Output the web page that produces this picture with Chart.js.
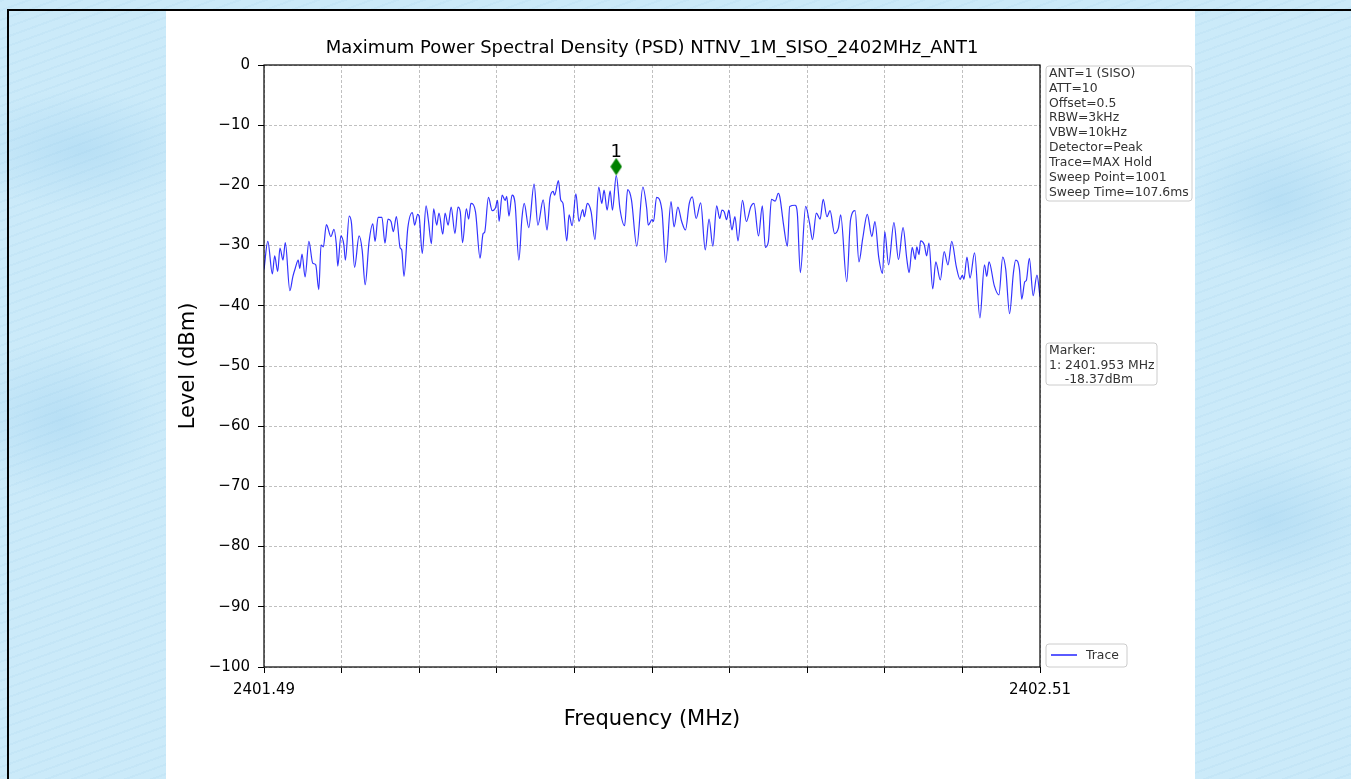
<!DOCTYPE html>
<html>
<head>
<meta charset="utf-8">
<script src="https://cdn.jsdelivr.net/npm/chart.js@4.4.0/dist/chart.umd.min.js"></script>
<style>
    html, body { margin: 0; padding: 0; }
    body {
        width: 1351px; height: 779px; overflow: hidden; position: relative;
        background-color: #cbeaf9;
        background-image:
            repeating-linear-gradient(160deg, rgba(150, 200, 230, 0.12) 0px, rgba(150, 200, 230, 0.12) 2px, transparent 2px, transparent 9px),
            radial-gradient(ellipse 120px 60px at 80px 150px, rgba(160, 210, 240, 0.45), transparent),
            radial-gradient(ellipse 100px 80px at 60px 420px, rgba(160, 210, 240, 0.45), transparent),
            radial-gradient(ellipse 90px 70px at 1280px 200px, rgba(160, 210, 240, 0.45), transparent),
            radial-gradient(ellipse 110px 70px at 1270px 520px, rgba(160, 210, 240, 0.45), transparent);
    }
    #frame {
        position: absolute; left: 7px; top: 9px; width: 1400px; height: 800px;
        border-left: 2px solid #000; border-top: 2px solid #000;
    }
    #panel {
        position: absolute; left: 166px; top: 11px; width: 1029px; height: 768px;
        background: #fff;
    }
    #panel canvas { display: block; }
</style>
</head>
<body>
<div id="frame"></div>
<div id="panel"><canvas id="psd-chart" width="1029" height="768"></canvas></div>
<script>
// Trace (MHz / dBm)
const freqMHz = [
    2401.490, 2401.495, 2401.501, 2401.504, 2401.508, 2401.511, 2401.515, 2401.518, 2401.524, 2401.528,
    2401.531, 2401.535, 2401.537, 2401.540, 2401.544, 2401.549, 2401.554, 2401.558, 2401.562, 2401.565,
    2401.568, 2401.572, 2401.578, 2401.582, 2401.585, 2401.587, 2401.591, 2401.595, 2401.597, 2401.602,
    2401.605, 2401.609, 2401.615, 2401.619, 2401.623, 2401.628, 2401.633, 2401.636, 2401.640, 2401.645,
    2401.649, 2401.653, 2401.657, 2401.660, 2401.664, 2401.669, 2401.671, 2401.674, 2401.679, 2401.685,
    2401.688, 2401.692, 2401.694, 2401.698, 2401.703, 2401.706, 2401.710, 2401.713, 2401.717, 2401.720,
    2401.725, 2401.728, 2401.732, 2401.736, 2401.741, 2401.745, 2401.748, 2401.751, 2401.756, 2401.759,
    2401.762, 2401.768, 2401.774, 2401.778, 2401.780, 2401.785, 2401.790, 2401.794, 2401.797, 2401.799,
    2401.803, 2401.807, 2401.809, 2401.812, 2401.816, 2401.820, 2401.825, 2401.829, 2401.832, 2401.838,
    2401.845, 2401.850, 2401.857, 2401.862, 2401.866, 2401.870, 2401.872, 2401.877, 2401.880, 2401.883,
    2401.888, 2401.891, 2401.895, 2401.900, 2401.904, 2401.909, 2401.911, 2401.915, 2401.920, 2401.925,
    2401.930, 2401.934, 2401.937, 2401.941, 2401.945, 2401.948, 2401.953, 2401.958, 2401.964, 2401.968,
    2401.973, 2401.980, 2401.988, 2401.993, 2401.995, 2402.000, 2402.002, 2402.006, 2402.013, 2402.018,
    2402.025, 2402.029, 2402.034, 2402.039, 2402.044, 2402.049, 2402.053, 2402.058, 2402.064, 2402.070,
    2402.075, 2402.080, 2402.085, 2402.089, 2402.092, 2402.095, 2402.098, 2402.101, 2402.105, 2402.109,
    2402.113, 2402.119, 2402.124, 2402.130, 2402.134, 2402.140, 2402.145, 2402.149, 2402.153, 2402.157,
    2402.162, 2402.166, 2402.168, 2402.173, 2402.178, 2402.181, 2402.188, 2402.191, 2402.195, 2402.202,
    2402.207, 2402.211, 2402.216, 2402.221, 2402.225, 2402.230, 2402.234, 2402.240, 2402.245, 2402.248,
    2402.256, 2402.261, 2402.267, 2402.272, 2402.277, 2402.283, 2402.289, 2402.293, 2402.298, 2402.303,
    2402.306, 2402.311, 2402.318, 2402.324, 2402.330, 2402.335, 2402.338, 2402.342, 2402.346, 2402.348,
    2402.351, 2402.353, 2402.358, 2402.361, 2402.364, 2402.369, 2402.373, 2402.379, 2402.384, 2402.389,
    2402.394, 2402.400, 2402.405, 2402.408, 2402.410, 2402.414, 2402.418, 2402.424, 2402.431, 2402.437,
    2402.440, 2402.443, 2402.450, 2402.456, 2402.461, 2402.465, 2402.470, 2402.475, 2402.478, 2402.483,
    2402.486, 2402.490, 2402.492, 2402.496, 2402.501, 2402.506, 2402.510
];
const levelDbm = [
    -34.0, -29.3, -34.7, -31.7, -34.3, -30.4, -32.4, -29.5, -37.5, -35.1,
    -33.8, -32.4, -33.8, -31.4, -35.2, -29.3, -32.9, -33.2, -37.3, -29.9,
    -30.2, -26.5, -28.5, -27.3, -29.7, -33.4, -28.4, -29.9, -32.4, -25.1,
    -26.3, -33.6, -28.4, -30.7, -36.5, -29.5, -26.4, -29.3, -25.3, -25.3,
    -29.6, -25.6, -26.0, -27.7, -25.2, -30.4, -30.7, -35.1, -27.1, -24.5,
    -26.6, -24.8, -25.2, -31.3, -23.4, -25.7, -29.7, -23.9, -26.6, -24.6,
    -28.1, -24.6, -26.6, -23.6, -28.0, -23.6, -24.4, -29.5, -23.9, -25.6,
    -23.0, -24.4, -32.1, -28.0, -27.8, -22.0, -24.2, -23.8, -22.5, -26.0,
    -21.6, -22.5, -21.8, -25.1, -21.6, -23.0, -32.4, -25.5, -23.0, -27.0,
    -19.8, -26.6, -22.4, -27.4, -22.0, -21.0, -21.6, -19.2, -22.4, -23.0,
    -29.2, -24.9, -26.7, -21.4, -26.0, -24.0, -25.2, -23.0, -24.4, -29.0,
    -20.3, -23.0, -20.8, -24.1, -20.9, -24.1, -18.37, -24.0, -26.7, -20.7,
    -22.4, -30.1, -20.3, -23.8, -26.6, -25.7, -26.0, -22.0, -24.1, -32.8,
    -22.7, -26.9, -23.6, -26.0, -27.4, -23.0, -21.9, -25.5, -22.9, -30.7,
    -25.6, -30.1, -23.4, -25.5, -24.1, -24.4, -25.7, -24.1, -27.4, -25.2,
    -29.2, -22.5, -26.0, -23.5, -23.0, -28.4, -23.4, -30.3, -29.3, -22.3,
    -22.6, -21.3, -21.9, -26.6, -30.1, -23.5, -23.3, -24.6, -34.5, -23.5,
    -26.2, -29.0, -24.6, -25.6, -22.3, -25.2, -24.2, -28.0, -27.1, -24.9,
    -36.0, -25.7, -24.2, -32.7, -28.8, -24.8, -28.5, -26.0, -31.9, -34.6,
    -27.7, -33.2, -26.2, -32.3, -27.0, -32.3, -34.5, -30.3, -32.3, -30.2,
    -31.5, -29.2, -29.9, -31.7, -29.6, -37.2, -32.7, -35.7, -31.0, -33.2,
    -29.3, -33.5, -35.6, -34.9, -35.6, -31.9, -35.4, -31.2, -42.0, -33.2,
    -35.1, -32.7, -36.7, -38.2, -31.9, -34.0, -41.3, -34.6, -32.4, -34.0,
    -38.9, -36.0, -35.8, -32.1, -38.3, -34.9, -38.5
];

// Peak marker
const markerFreq = [2401.953];
const markerLevel = [-18.37];
const markerNames = ['1'];

// Axis ticks
const xTickValues = [2401.49, 2401.592, 2401.694, 2401.796, 2401.898, 2402.0,
                     2402.102, 2402.204, 2402.306, 2402.408, 2402.51];
const xTickLabels = ['2401.49', '', '', '', '', '', '', '', '', '', '2402.51'];
const yTickValues = [-100, -90, -80, -70, -60, -50, -40, -30, -20, -10, 0];
const yTickLabels = ['\u2212100', '\u221290', '\u221280', '\u221270', '\u221260', '\u221250',
                     '\u221240', '\u221230', '\u221220', '\u221210', '0'];

// Title and side boxes
const chartTitle = 'Maximum Power Spectral Density (PSD) NTNV_1M_SISO_2402MHz_ANT1';
const infoLines = ['ANT=1 (SISO)', 'ATT=10', 'Offset=0.5', 'RBW=3kHz', 'VBW=10kHz',
                   'Detector=Peak', 'Trace=MAX Hold', 'Sweep Point=1001', 'Sweep Time=107.6ms'];
const markerLines = ['Marker:', '1: 2401.953 MHz', '    -18.37dBm'];
const legendLabel = 'Trace';

const FONT = '"DejaVu Sans", sans-serif';
Chart.defaults.font.family = FONT;
Chart.defaults.color = '#000';

// thin green diamond, sitting just above its data point
function makeDiamond() {
    let c = document.createElement('canvas');
    c.width = 12;
    c.height = 36;
    let g = c.getContext('2d');
    g.fillStyle = '#008000';
    g.beginPath();
    g.moveTo(6, 0.3);
    g.lineTo(11.8, 9);
    g.lineTo(6, 17.7);
    g.lineTo(0.2, 9);
    g.closePath();
    g.fill();
    return c;
}

function roundBox(ctx, x, y, w, h, r) {
    ctx.beginPath();
    ctx.moveTo(x + r, y);
    ctx.lineTo(x + w - r, y);
    ctx.quadraticCurveTo(x + w, y, x + w, y + r);
    ctx.lineTo(x + w, y + h - r);
    ctx.quadraticCurveTo(x + w, y + h, x + w - r, y + h);
    ctx.lineTo(x + r, y + h);
    ctx.quadraticCurveTo(x, y + h, x, y + h - r);
    ctx.lineTo(x, y + r);
    ctx.quadraticCurveTo(x, y, x + r, y);
    ctx.closePath();
    ctx.fillStyle = 'rgba(255,255,255,0.9)';
    ctx.fill();
    ctx.strokeStyle = '#cccccc';
    ctx.lineWidth = 1;
    ctx.stroke();
}

// Title, spines, marker label, info boxes and legend
const extrasPlugin = {
    id: 'extras',
    afterDraw(chart) {
        let ctx = chart.ctx;
        let area = chart.chartArea;
        let xs = chart.scales.x;
        let ys = chart.scales.y;
        ctx.save();

        // title centred over the axes
        ctx.fillStyle = '#000';
        ctx.font = '18px ' + FONT;
        ctx.textAlign = 'center';
        ctx.textBaseline = 'middle';
        ctx.fillText(chartTitle, (area.left + area.right) / 2, area.top - 17);

        // axes box
        ctx.strokeStyle = '#000';
        ctx.lineWidth = 1.2;
        ctx.strokeRect(area.left, area.top, area.right - area.left, area.bottom - area.top);

        // marker number
        ctx.font = '18px ' + FONT;
        ctx.textBaseline = 'alphabetic';
        for (let i = 0; i < markerFreq.length; i++) {
            let px = xs.getPixelForValue(markerFreq[i]);
            let py = ys.getPixelForValue(markerLevel[i]);
            ctx.fillText(markerNames[i], px, py - 19);
        }

        let bx = area.right + 6;
        ctx.font = '12.4px ' + FONT;
        ctx.textAlign = 'left';
        ctx.textBaseline = 'middle';

        // info box
        roundBox(ctx, bx, area.top + 1, 146, 135, 3);
        ctx.fillStyle = '#333';
        infoLines.forEach((t, i) => ctx.fillText(t, bx + 3, area.top + 8.5 + i * 14.9));

        // marker readout
        roundBox(ctx, bx, area.top + 278, 111, 42, 3);
        ctx.fillStyle = '#333';
        markerLines.forEach((t, i) => ctx.fillText(t, bx + 3, area.top + 286 + i * 14.5));

        // legend
        roundBox(ctx, bx, area.bottom - 23, 81, 23, 3);
        ctx.strokeStyle = '#0000ff';
        ctx.lineWidth = 1.3;
        ctx.beginPath();
        ctx.moveTo(bx + 5, area.bottom - 12);
        ctx.lineTo(bx + 31, area.bottom - 12);
        ctx.stroke();
        ctx.fillStyle = '#333';
        ctx.fillText(legendLabel, bx + 40, area.bottom - 11.5);

        ctx.restore();
    }
};

let ctx = document.getElementById('psd-chart').getContext('2d');
new Chart(ctx, {
    type: 'line',
    data: {
        datasets: [{
            label: legendLabel,
            data: freqMHz.map((f, i) => ({ x: f, y: levelDbm[i] })),
            borderColor: 'rgba(0, 0, 255, 0.8)',
            borderWidth: 1.2,
            pointRadius: 0,
            cubicInterpolationMode: 'monotone',
            order: 2
        }, {
            label: 'Marker',
            data: markerFreq.map((f, i) => ({ x: f, y: markerLevel[i] })),
            showLine: false,
            pointStyle: makeDiamond(),
            pointRadius: 6,
            order: 1
        }]
    },
    options: {
        responsive: false,
        animation: false,
        layout: { padding: { left: 0, top: 54, right: 155, bottom: 0 } },
        plugins: {
            legend: { display: false },
            tooltip: { enabled: false },
            title: { display: false }
        },
        scales: {
            x: {
                type: 'linear',
                min: 2401.49,
                max: 2402.51,
                afterBuildTicks: (scale) => { scale.ticks = xTickValues.map(v => ({ value: v })); },
                afterFit: (scale) => { scale.height = 112; },
                ticks: {
                    autoSkip: false,
                    maxRotation: 0,
                    padding: 8,
                    font: { size: 15 },
                    color: '#000',
                    callback: (v, i) => xTickLabels[i]
                },
                grid: {
                    color: '#b0b0b0',
                    lineWidth: 0.8,
                    tickColor: '#000',
                    tickLength: 6,
                    tickWidth: 1
                },
                border: { display: false, dash: [3, 2] },
                title: {
                    display: true,
                    text: 'Frequency (MHz)',
                    font: { size: 21 },
                    color: '#000',
                    padding: { top: 0, bottom: 46.4 }
                }
            },
            y: {
                min: -100,
                max: 0,
                afterBuildTicks: (scale) => { scale.ticks = yTickValues.map(v => ({ value: v })); },
                afterFit: (scale) => { scale.width = 98; },
                ticks: {
                    padding: 8,
                    font: { size: 15 },
                    color: '#000',
                    callback: (v, i) => yTickLabels[i]
                },
                grid: {
                    color: '#b0b0b0',
                    lineWidth: 0.8,
                    tickColor: '#000',
                    tickLength: 6,
                    tickWidth: 1
                },
                border: { display: false, dash: [3, 2] },
                title: {
                    display: true,
                    text: 'Level (dBm)',
                    font: { size: 21 },
                    color: '#000',
                    padding: { top: 10.4, bottom: 0 }
                }
            }
        }
    },
    plugins: [extrasPlugin]
});
</script>
</body>
</html>
